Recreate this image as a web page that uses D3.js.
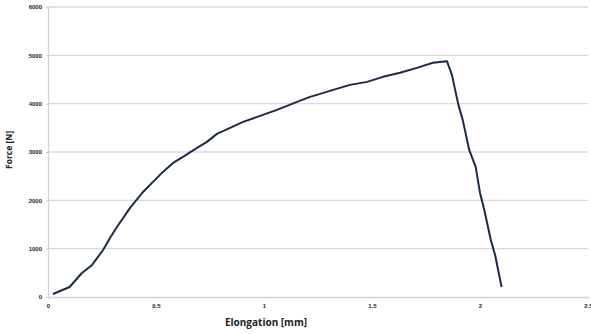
<!DOCTYPE html>
<html>
<head>
<meta charset="utf-8">
<script src="https://cdn.jsdelivr.net/npm/d3@7"></script>
<style>
  body { margin: 0; background: #fff; }
  svg { display: block; font-family: "Open Sans", "DejaVu Sans", sans-serif; }
  .grid line { stroke: #d9d9d9; stroke-width: 1.3; }
  .tick text { fill: #222; font-weight: bold; font-size: 6px; }
  .domain { stroke: #d4d4d4; stroke-width: 1.3; }
</style>
</head>
<body>
<svg id="chart" width="591" height="334"></svg>
<script>
// elongation [mm] and force [N]
var elongation = [0.023, 0.10, 0.157, 0.204, 0.255, 0.287, 0.319, 0.38, 0.44, 0.486, 0.532,
  0.579, 0.625, 0.69, 0.736, 0.782, 0.843, 0.903, 0.995, 1.06, 1.153, 1.213,
  1.245, 1.32, 1.398, 1.477, 1.551, 1.63, 1.708, 1.782, 1.847,
  1.87, 1.90, 1.92, 1.95, 1.98, 2.00, 2.02, 2.05, 2.07, 2.10];
var force = [62, 207, 497, 663, 973, 1222, 1449, 1843, 2174, 2381, 2588,
  2774, 2899, 3085, 3209, 3375, 3499, 3623, 3768, 3872, 4037, 4141,
  4182, 4286, 4389, 4451, 4555, 4638, 4741, 4845, 4880,
  4596, 3975, 3665, 3043, 2692, 2153, 1801, 1180, 870, 207];
var xTicks = [0, 0.5, 1, 1.5, 2, 2.5];
var yTicks = [0, 1000, 2000, 3000, 4000, 5000, 6000];

var svg = d3.select("#chart");
var plotLeft = 48, plotRight = 588, plotTop = 7, plotBottom = 297;

var x = d3.scaleLinear().domain([0, 2.5]).range([plotLeft, plotRight]);
var y = d3.scaleLinear().domain([0, 6000]).range([plotBottom, plotTop]);

// horizontal gridlines
svg.append("g").attr("class", "grid")
  .selectAll("line").data(yTicks.slice(1)).enter().append("line")
  .attr("x1", plotLeft).attr("x2", plotRight)
  .attr("y1", function(d) { return y(d); })
  .attr("y2", function(d) { return y(d); });

var yAxis = svg.append("g")
  .attr("transform", "translate(" + plotLeft + ",0)")
  .call(d3.axisLeft(y).tickValues(yTicks).tickSize(2).tickPadding(4).tickFormat(d3.format("d")));
yAxis.selectAll(".tick line").attr("stroke", "#d4d4d4");

var xAxis = svg.append("g")
  .attr("transform", "translate(0," + plotBottom + ")")
  .call(d3.axisBottom(x).tickValues(xTicks).tickSize(2).tickPadding(5).tickFormat(function(d) { return String(d); }));
xAxis.selectAll(".tick line").attr("stroke", "#d4d4d4");

var pts = elongation.map(function(e, i) { return [e, force[i]]; });
var line = d3.line()
  .x(function(d) { return x(d[0]); })
  .y(function(d) { return y(d[1]); });

svg.append("path")
  .datum(pts)
  .attr("d", line)
  .attr("fill", "none")
  .attr("stroke", "#1c2a48")
  .attr("stroke-width", 2)
  .attr("stroke-linejoin", "round");

svg.append("text")
  .attr("x", 266).attr("y", 326)
  .attr("text-anchor", "middle")
  .style("font-size", "10px").style("font-weight", "bold").style("fill", "#222")
  .text("Elongation [mm]");

svg.append("text")
  .attr("transform", "translate(12,150) rotate(-90)")
  .attr("text-anchor", "middle")
  .style("font-size", "8.5px").style("font-weight", "bold").style("fill", "#222")
  .text("Force [N]");
</script>
</body>
</html>
